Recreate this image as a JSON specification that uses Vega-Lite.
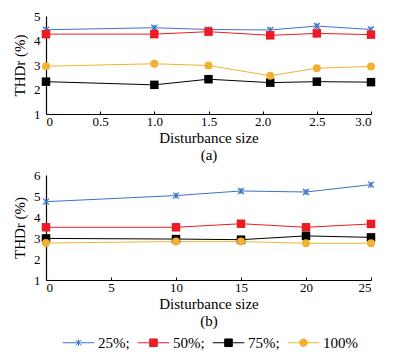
{
  "$schema": "https://vega.github.io/schema/vega-lite/v6.json",
  "padding": {"top": 10, "left": 12, "right": 5, "bottom": 2},
  "config": {
    "font": "Liberation Serif",
    "view": {"stroke": null},
    "axis": {"grid": false, "domainColor": "#000", "domainWidth": 1.2, "labelFont": "Liberation Serif", "labelFontSize": 13, "labelColor": "#000", "titleFont": "Liberation Serif", "titleFontSize": 15, "titleFontWeight": "normal", "titleColor": "#000"},
    "axisX": {"tickSize": -3, "tickColor": "#000", "labelPadding": 4, "titlePadding": 2, "titleLineHeight": 17},
    "axisY": {"ticks": false, "labelPadding": 6, "titlePadding": 6},
    "concat": {"spacing": 7}
  },
  "datasets": {
    "a": [
      {"x": 0, "y": 4.44, "s": "25%"}, {"x": 1.0, "y": 4.52, "s": "25%"}, {"x": 1.5, "y": 4.45, "s": "25%"}, {"x": 2.07, "y": 4.43, "s": "25%"}, {"x": 2.5, "y": 4.59, "s": "25%"}, {"x": 3.0, "y": 4.45, "s": "25%"},
      {"x": 0, "y": 4.26, "s": "50%"}, {"x": 1.0, "y": 4.26, "s": "50%"}, {"x": 1.5, "y": 4.36, "s": "50%"}, {"x": 2.07, "y": 4.21, "s": "50%"}, {"x": 2.5, "y": 4.29, "s": "50%"}, {"x": 3.0, "y": 4.24, "s": "50%"},
      {"x": 0, "y": 2.32, "s": "75%"}, {"x": 1.0, "y": 2.19, "s": "75%"}, {"x": 1.5, "y": 2.42, "s": "75%"}, {"x": 2.07, "y": 2.28, "s": "75%"}, {"x": 2.5, "y": 2.32, "s": "75%"}, {"x": 3.0, "y": 2.30, "s": "75%"},
      {"x": 0, "y": 2.95, "s": "100%"}, {"x": 1.0, "y": 3.05, "s": "100%"}, {"x": 1.5, "y": 2.98, "s": "100%"}, {"x": 2.07, "y": 2.56, "s": "100%"}, {"x": 2.5, "y": 2.87, "s": "100%"}, {"x": 3.0, "y": 2.94, "s": "100%"}
    ],
    "b": [
      {"x": 0, "y": 4.73, "s": "25%"}, {"x": 10, "y": 5.02, "s": "25%"}, {"x": 15, "y": 5.24, "s": "25%"}, {"x": 20, "y": 5.19, "s": "25%"}, {"x": 25, "y": 5.54, "s": "25%"},
      {"x": 0, "y": 3.51, "s": "50%"}, {"x": 10, "y": 3.51, "s": "50%"}, {"x": 15, "y": 3.68, "s": "50%"}, {"x": 20, "y": 3.51, "s": "50%"}, {"x": 25, "y": 3.67, "s": "50%"},
      {"x": 0, "y": 2.98, "s": "75%"}, {"x": 10, "y": 2.95, "s": "75%"}, {"x": 15, "y": 2.92, "s": "75%"}, {"x": 20, "y": 3.1, "s": "75%"}, {"x": 25, "y": 3.03, "s": "75%"},
      {"x": 0, "y": 2.76, "s": "100%"}, {"x": 10, "y": 2.83, "s": "100%"}, {"x": 15, "y": 2.83, "s": "100%"}, {"x": 20, "y": 2.75, "s": "100%"}, {"x": 25, "y": 2.75, "s": "100%"}
    ]
  },
  "vconcat": [
    {
      "width": 325, "height": 98,
      "data": {"name": "a"},
      "encoding": {
        "x": {"field": "x", "type": "quantitative", "scale": {"domain": [0, 3], "nice": false}, "axis": {"values": [0, 0.5, 1, 1.5, 2, 2.5, 3], "labelExpr": "datum.value == 0 ? '0' : format(datum.value, '.1f')", "title": ["Disturbance size", "(a)"]}},
        "y": {"field": "y", "type": "quantitative", "scale": {"domain": [1, 5], "nice": false, "zero": false}, "axis": {"values": [1, 2, 3, 4, 5], "title": "THDr (%)"}},
        "color": {"field": "s", "type": "nominal", "scale": {"domain": ["25%", "50%", "75%", "100%"], "range": ["#3C73C6", "#EC1C24", "#000000", "#F2B130"]},
          "legend": {"orient": "bottom", "direction": "horizontal", "title": null, "offset": -18, "padding": 16, "symbolSize": 1000, "symbolStrokeWidth": 1, "labelFontSize": 15, "labelFont": "Liberation Serif", "labelColor": "#000", "labelOffset": 3, "columnPadding": 5,
            "labelExpr": "datum.label == '100%' ? '100%' : datum.label + ';'",
            "encode": {"symbols": {"update": {
              "shape": {"signal": "datum.value == '25%' ? 'M-1,0H1M-0.17,-0.17L0.17,0.17M-0.17,0.17L0.17,-0.17M0,-0.2V0.2' : datum.value == '100%' ? 'M-1,0H1M0.24,0A0.24,0.24 0 1,1 -0.24,0A0.24,0.24 0 1,1 0.24,0Z' : 'M-1,0H1M-0.24,-0.24H0.24V0.24H-0.24Z'"},
              "size": {"value": 1000},
              "fill": {"signal": "scale('color', datum.value)"},
              "stroke": {"signal": "scale('color', datum.value)"},
              "opacity": {"value": 1},
              "strokeWidth": {"value": 1}
            }}}
          }}
      },
      "layer": [
        {"mark": {"type": "line", "strokeWidth": 1}},
        {"transform": [{"filter": "datum.s == '25%'"}], "mark": {"type": "point", "filled": false, "opacity": 1, "strokeWidth": 1.2, "size": 36, "shape": "M-1,-1L1,1M-1,1L1,-1M0,-1V1"}},
        {"transform": [{"filter": "datum.s == '50%' || datum.s == '75%'"}], "mark": {"type": "square", "opacity": 1, "size": 72}},
        {"transform": [{"filter": "datum.s == '100%'"}], "mark": {"type": "circle", "opacity": 1, "size": 64}}
      ]
    },
    {
      "width": 325, "height": 105,
      "data": {"name": "b"},
      "encoding": {
        "x": {"field": "x", "type": "quantitative", "scale": {"domain": [0, 25], "nice": false}, "axis": {"values": [0, 5, 10, 15, 20, 25], "title": ["Disturbance size", "(b)"]}},
        "y": {"field": "y", "type": "quantitative", "scale": {"domain": [1, 6], "nice": false, "zero": false}, "axis": {"values": [1, 2, 3, 4, 5, 6], "title": "THDr (%)"}},
        "color": {"field": "s", "type": "nominal", "scale": {"domain": ["25%", "50%", "75%", "100%"], "range": ["#3C73C6", "#EC1C24", "#000000", "#F2B130"]},
          "legend": {"orient": "bottom", "direction": "horizontal", "title": null, "offset": -18, "padding": 16, "symbolSize": 1000, "symbolStrokeWidth": 1, "labelFontSize": 15, "labelFont": "Liberation Serif", "labelColor": "#000", "labelOffset": 3, "columnPadding": 5,
            "labelExpr": "datum.label == '100%' ? '100%' : datum.label + ';'",
            "encode": {"symbols": {"update": {
              "shape": {"signal": "datum.value == '25%' ? 'M-1,0H1M-0.17,-0.17L0.17,0.17M-0.17,0.17L0.17,-0.17M0,-0.2V0.2' : datum.value == '100%' ? 'M-1,0H1M0.24,0A0.24,0.24 0 1,1 -0.24,0A0.24,0.24 0 1,1 0.24,0Z' : 'M-1,0H1M-0.24,-0.24H0.24V0.24H-0.24Z'"},
              "size": {"value": 1000},
              "fill": {"signal": "scale('color', datum.value)"},
              "stroke": {"signal": "scale('color', datum.value)"},
              "opacity": {"value": 1},
              "strokeWidth": {"value": 1}
            }}}
          }}
      },
      "layer": [
        {"mark": {"type": "line", "strokeWidth": 1}},
        {"transform": [{"filter": "datum.s == '25%'"}], "mark": {"type": "point", "filled": false, "opacity": 1, "strokeWidth": 1.2, "size": 36, "shape": "M-1,-1L1,1M-1,1L1,-1M0,-1V1"}},
        {"transform": [{"filter": "datum.s == '50%' || datum.s == '75%'"}], "mark": {"type": "square", "opacity": 1, "size": 72}},
        {"transform": [{"filter": "datum.s == '100%'"}], "mark": {"type": "circle", "opacity": 1, "size": 64}}
      ]
    }
  ],
  "resolve": {"scale": {"x": "independent", "y": "independent", "color": "shared"}}
}
